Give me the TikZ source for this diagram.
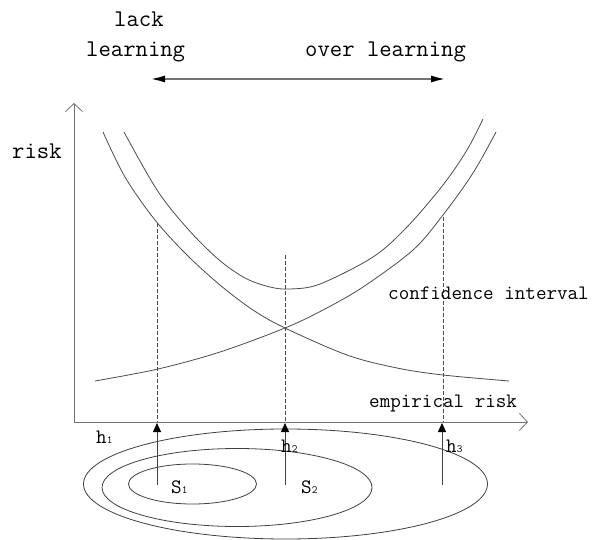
\documentclass[tikz,border=0pt]{standalone}
\usepackage{fontspec}
\usetikzlibrary{arrows.meta}
\newcommand{\smallsub}[1]{{\fontsize{11}{11}\selectfont #1}}
\begin{document}
\begin{tikzpicture}[x=1pt,y=-1pt,
  curve/.style={draw=black!70, line width=0.8pt},
  guide/.style={draw=black!70, line width=0.6pt, dash pattern=on 4pt off 2pt},
  axisline/.style={draw=black!55, line width=0.8pt, -{Straight Barb[length=8pt,width=17pt]}},
  uparrow/.style={draw=black!75, line width=0.8pt, -{Triangle[length=9pt,width=8pt,color=black]}},
  rangearrow/.style={draw=black!55, line width=2.5pt, {Latex[length=16pt,width=7pt,color=black]}-{Latex[length=16pt,width=7pt,color=black]}},
  ring/.style={draw=black!75, line width=0.8pt},
  toplbl/.style={inner sep=0pt, anchor=base west, font=\ttfamily\fontsize{24}{28}\selectfont},
  lowlbl/.style={inner sep=0pt, anchor=base west, font=\ttfamily\fontsize{20.5}{24}\selectfont},
]
\useasboundingbox (0,0) rectangle (592,540);

% top labels and range arrow
\node[toplbl] (lack) at (114,27) {lack};
\node[toplbl] (learn) at (86,57) {learning};
\node[toplbl] (over) at (305,57) {over learning};
\coordinate (rl) at (149,79);
\coordinate (rr) at (447,79);
\draw[rangearrow] (rl) -- (rr);

% axes
\coordinate (O) at (74,422);
\coordinate (ytop) at (74,103);
\coordinate (xend) at (528,422);
\draw[axisline] (O) -- (ytop);
\draw[axisline] (O) -- (xend);
\node[toplbl] (risk) at (12,159) {risk};

% curves
\draw[curve] plot[smooth, tension=0.55] coordinates {(103,132) (125,177) (155,220) (187,255) (220,285) (253,310) (285,328) (347,355) (397,368) (443,375) (509,381)};
\draw[curve] plot[smooth, tension=0.55] coordinates {(95,381) (158,369) (220,352) (285,328) (323,310) (363,287) (413,250) (443,215) (473,173) (496,132)};
\draw[curve] plot[smooth, tension=0.55] coordinates {(124,132) (157,190) (187,228) (218,259) (245,278) (270,287) (290,289) (320,284) (373,257) (407,227) (443,185) (467,150) (483,119)};

% dashed guides
\coordinate (g1t) at (157,223);
\coordinate (g1b) at (157,422);
\coordinate (g2t) at (285,255);
\coordinate (g2b) at (285,422);
\coordinate (g3t) at (443,217);
\coordinate (g3b) at (443,422);
\draw[guide] (g1t) -- (g1b);
\draw[guide] (g2t) -- (g2b);
\draw[guide] (g3t) -- (g3b);

\node[lowlbl] (conf) at (388,299) {confidence interval};
\node[lowlbl] (emp) at (369,407) {empirical risk};

% nested sets
\draw[ring] (192.5,484) ellipse [x radius=64, y radius=20];
\draw[ring] (237,487.5) ellipse [x radius=135, y radius=39];
\draw[ring] (285.5,484) ellipse [x radius=202, y radius=55];

% up arrows
\coordinate (a1s) at (157,485);
\coordinate (a1t) at (157,423);
\coordinate (a2s) at (285,485);
\coordinate (a2t) at (285,423);
\coordinate (a3s) at (442,485);
\coordinate (a3t) at (442,423);
\draw[uparrow] (a1s) -- (a1t);
\draw[uparrow] (a2s) -- (a2t);
\draw[uparrow] (a3s) -- (a3t);

\node[lowlbl] (h1) at (96,443) {h\smallsub{1}};
\node[lowlbl] (h2) at (281,452) {h\smallsub{2}};
\node[lowlbl] (h3) at (446,452) {h\smallsub{3}};
\node[lowlbl] (s1) at (171,493) {S\smallsub{1}};
\node[lowlbl] (s2) at (301,493) {S\smallsub{2}};
\end{tikzpicture}
\end{document}
